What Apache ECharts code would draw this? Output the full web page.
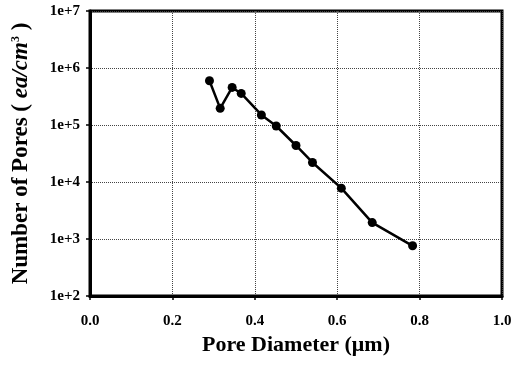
<!DOCTYPE html>
<html>
<head>
<meta charset="utf-8">
<script src="https://cdn.jsdelivr.net/npm/echarts@6/dist/echarts.min.js"></script>
<style>
  html, body { margin: 0; padding: 0; background: #fff; }
  #chart-container { width: 524px; height: 369px; }
</style>
</head>
<body>
<div id="chart-container"></div>
<script>
// pore diameter (um) and number of pores (ea/cm^3)
const diameters = [0.290, 0.316, 0.345, 0.367, 0.416, 0.452, 0.500, 0.540, 0.610, 0.685, 0.783];
const poreCounts = [5.97e5, 1.96e5, 4.56e5, 3.58e5, 1.50e5, 9.6e4, 4.37e4, 2.2e4, 7.8e3, 1.94e3, 7.6e2];

const dom = document.getElementById('chart-container');
const myChart = echarts.init(dom, null, { renderer: 'canvas' });

const font = 'Liberation Serif';

const option = {
  animation: false,
  grid: {
    left: 90,
    right: 22,
    top: 11,
    bottom: 73,
    show: true,
    borderColor: '#000',
    borderWidth: 3,
  },
  xAxis: {
    type: 'value',
    min: 0,
    max: 1,
    interval: 0.2,
    name: 'Pore Diameter (μm)',
    nameLocation: 'middle',
    nameGap: 31,
    nameTextStyle: { fontFamily: font, fontWeight: 'bold', fontSize: 22, color: '#000' },
    axisLine: { lineStyle: { color: '#000', width: 3 } },
    axisTick: { show: true, length: 4, lineStyle: { color: '#000', width: 1.5 } },
    axisLabel: {
      fontFamily: font, fontWeight: 'bold', fontSize: 15, color: '#000', margin: 18,
      formatter: (v) => v.toFixed(1),
    },
    splitLine: { lineStyle: { type: 'dotted', color: '#444', width: 1 } },
  },
  yAxis: {
    type: 'log',
    logBase: 10,
    min: 100,
    max: 1e7,
    name: '{b|Number of Pores ( }{i|ea/cm}{s|3}{b| )}',
    nameLocation: 'middle',
    nameGap: 57,
    nameRotate: 90,
    nameTextStyle: {
      rich: {
        b: { fontFamily: font, fontWeight: 'bold', fontSize: 23, color: '#000' },
        i: { fontFamily: font, fontWeight: 'bold', fontStyle: 'italic', fontSize: 23, color: '#000' },
        s: { fontFamily: font, fontWeight: 'bold', fontSize: 12, color: '#000', verticalAlign: 'top', padding: [0, 0, 10, 0] },
      },
    },
    axisLine: { show: true, lineStyle: { color: '#000', width: 3 } },
    axisTick: { show: true, length: 4, lineStyle: { color: '#000', width: 1.5 } },
    axisLabel: {
      fontFamily: font, fontWeight: 'bold', fontSize: 15, color: '#000', margin: 10,
      formatter: (v) => '1e+' + Math.round(Math.log10(v)),
    },
    splitLine: { lineStyle: { type: 'dotted', color: '#444', width: 1 } },
  },
  series: [
    {
      type: 'line',
      data: diameters.map((d, i) => [d, poreCounts[i]]),
      symbol: 'circle',
      symbolSize: 9,
      itemStyle: { color: '#000' },
      lineStyle: { color: '#000', width: 2.5 },
    },
  ],
};

myChart.setOption(option);
window.addEventListener('resize', myChart.resize);
</script>
</body>
</html>
